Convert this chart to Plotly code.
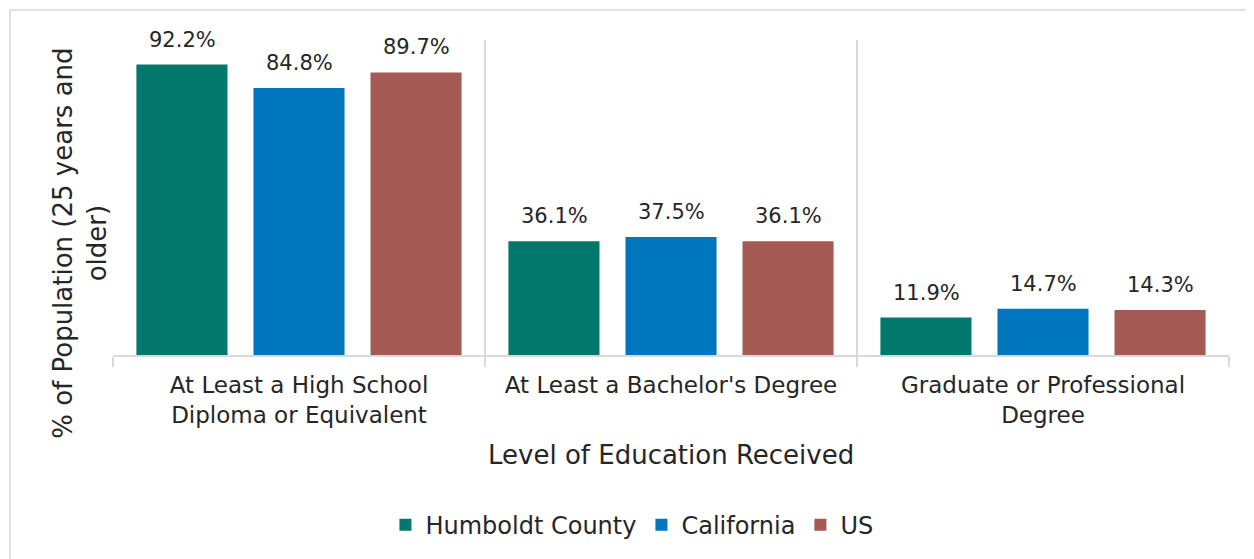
import plotly.graph_objects as go

categories = ["At Least a High School<br>Diploma or Equivalent",
              "At Least a Bachelor's Degree",
              "Graduate or Professional<br>Degree"]
series_names = ["Humboldt County", "California", "US"]
humboldt = [92.2, 36.1, 11.9]
california = [84.8, 37.5, 14.7]
us = [89.7, 36.1, 14.3]
colors = ["#02786C", "#0076BF", "#A55A53"]

FONT = "DejaVu Sans"
TXT = "#262626"
SLOT_PX = 117  # pixel distance between bars within a group

fig = go.Figure()
annotations = []
for j, (name, vals, col) in enumerate(zip(series_names, [humboldt, california, us], colors)):
    fig.add_trace(go.Bar(
        x=categories, y=vals, name=name,
        marker=dict(color=col, line=dict(width=0)),
        cliponaxis=False,
    ))
    for cat, v in zip(categories, vals):
        annotations.append(dict(
            x=cat, y=v, xref="x", yref="y", text=f"{v:.1f}%", showarrow=False,
            xshift=(j - 1) * SLOT_PX, yshift=25, yanchor="middle", xanchor="center",
            font=dict(family=FONT, size=21, color=TXT)))

annotations += [
    dict(text="% of Population (25 years and<br>older)", xref="paper", yref="paper",
         x=-0.0296, y=0.356, textangle=-90, showarrow=False, xanchor="center", yanchor="middle",
         font=dict(family=FONT, size=26, color=TXT), align="center"),
    dict(text="Level of Education Received", xref="paper", yref="paper",
         x=0.5, y=-0.317, showarrow=False, xanchor="center", yanchor="middle",
         font=dict(family=FONT, size=26, color=TXT)),
]

fig.update_layout(
    width=1254, height=559,
    margin=dict(l=105, r=33, t=32, b=212),
    paper_bgcolor="white", plot_bgcolor="white",
    barmode="group", bargap=0.056, bargroupgap=0.222,
    font=dict(family=FONT, color=TXT),
    showlegend=True,
    legend=dict(orientation="h", x=0.465, xanchor="center", y=-0.54, yanchor="middle",
                font=dict(family=FONT, size=24, color=TXT), traceorder="normal"),
    xaxis=dict(
        type="category", tickson="boundaries", showgrid=True, gridcolor="#D9D9D9", gridwidth=1.5,
        showline=True, linecolor="#D9D9D9", linewidth=1.5,
        ticks="outside", ticklen=10, tickcolor="#D9D9D9", tickwidth=1.5,
        tickfont=dict(family=FONT, size=23, color=TXT), ticklabelstandoff=9,
    ),
    yaxis=dict(range=[0, 100], visible=False, showgrid=False, zeroline=False),
    shapes=[dict(type="rect", xref="paper", yref="paper",
                 x0=-0.0923, x1=1.2, y0=-1.0, y1=1.095,
                 line=dict(color="#D9D9D9", width=1.5), fillcolor="rgba(0,0,0,0)", layer="below")],
    annotations=annotations,
)

fig.write_html("out.html")
